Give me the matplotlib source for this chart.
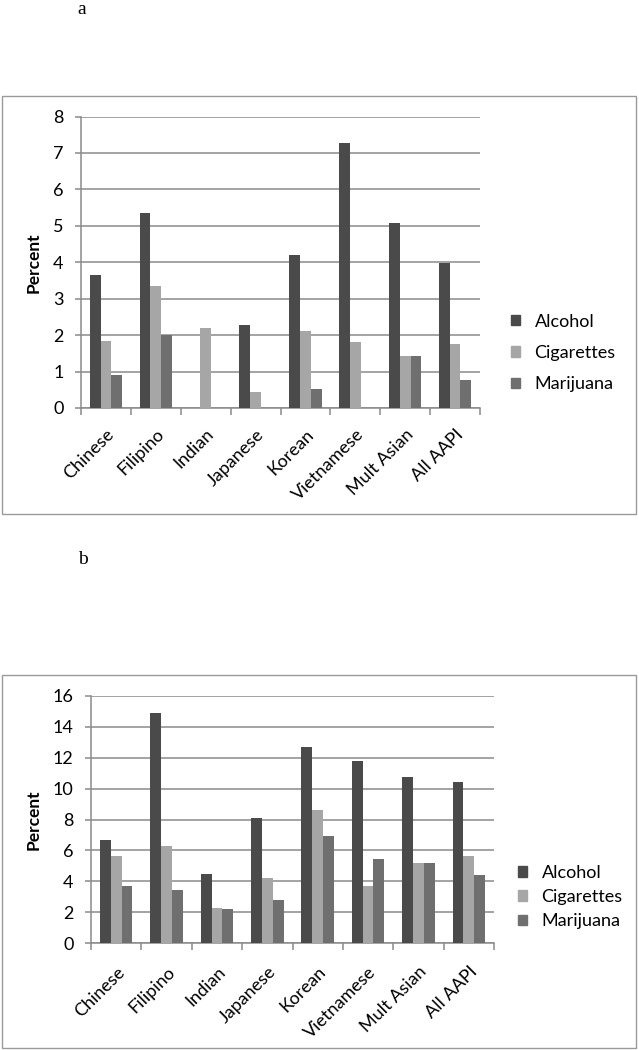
import numpy as np
import matplotlib.pyplot as plt
from matplotlib.patches import Rectangle, Patch

plt.rcParams['font.family'] = ['Lato', 'DejaVu Sans']

categories = ['Chinese', 'Filipino', 'Indian', 'Japanese', 'Korean',
              'Vietnamese', 'Mult Asian', 'All AAPI']
series = ['Alcohol', 'Cigarettes', 'Marijuana']
colors = ['#4a4a4a', '#a6a6a6', '#6f6f6f']

# panel a values (percent)
alcohol_a = [3.66, 5.35, 0.0, 2.28, 4.21, 7.26, 5.09, 3.99]
cigarettes_a = [1.85, 3.35, 2.20, 0.45, 2.12, 1.80, 1.44, 1.77]
marijuana_a = [0.90, 1.99, 0.0, 0.0, 0.51, 0.0, 1.44, 0.77]

# panel b values (percent)
alcohol_b = [6.65, 14.9, 4.44, 8.08, 12.69, 11.76, 10.76, 10.41]
cigarettes_b = [5.61, 6.26, 2.27, 4.18, 8.64, 3.68, 5.17, 5.65]
marijuana_b = [3.68, 3.42, 2.23, 2.77, 6.91, 5.43, 5.17, 4.39]

W, H = 639, 1050
fig = plt.figure(figsize=(W / 100, H / 100), dpi=100)


def px_rect(x0, y0, x1, y1):
    # pixel box (top-left origin) -> figure fraction [l, b, w, h]
    return [x0 / W, 1 - y1 / H, (x1 - x0) / W, (y1 - y0) / H]


def panel(box, ax_box, data, ymax, ystep, leg_pos, leg_space, letter, letter_pos, xpad):
    l, b, w, h = px_rect(*box)
    fig.patches.append(Rectangle((l, b), w, h, transform=fig.transFigure,
                                 fill=False, edgecolor='#9a9a9a', lw=1.0))
    fig.text(letter_pos[0] / W, 1 - letter_pos[1] / H, letter,
             family='Liberation Serif', fontsize=14, ha='center', va='baseline')

    ax = fig.add_axes(px_rect(*ax_box))
    x = np.arange(len(categories))
    bw = 0.215
    for i, (vals, c, name) in enumerate(zip(data, colors, series)):
        ax.bar(x + (i - 1) * bw, vals, bw, color=c, label=name, zorder=3)

    ax.set_xlim(-0.5, len(categories) - 0.5)
    ax.set_ylim(0, ymax)
    ax.set_yticks(np.arange(0, ymax + 0.1, ystep))
    ax.yaxis.grid(True, color='#8a8a8a', lw=1.1, zorder=0)
    ax.set_axisbelow(True)
    for s in ['top', 'right']:
        ax.spines[s].set_visible(False)
    for s in ['left', 'bottom']:
        ax.spines[s].set_color('#8a8a8a')
        ax.spines[s].set_linewidth(1.1)

    ax.set_xticks(x)
    ax.set_xticklabels(categories, rotation=45, ha='right',
                       rotation_mode='anchor', fontsize=13)
    ax.tick_params(axis='x', which='major', length=0, pad=xpad)
    ax.set_xticks(np.arange(-0.5, len(categories)), minor=True)
    ax.tick_params(axis='x', which='minor', length=5, width=1.1,
                   color='#8a8a8a', direction='out')
    ax.tick_params(axis='y', length=4.5, width=1.1, color='#8a8a8a',
                   labelsize=13, pad=8)
    ax.set_ylabel('Percent', fontsize=12.5, fontweight='bold', labelpad=8)

    handles = [Patch(color=c, label=n) for c, n in zip(colors, series)]
    fig.legend(handles=handles, loc='center left',
               bbox_to_anchor=(leg_pos[0] / W, 1 - leg_pos[1] / H),
               frameon=False, fontsize=13, handlelength=0.5,
               handleheight=0.5, handletextpad=0.8, labelspacing=leg_space,
               borderpad=0, borderaxespad=0)
    return ax


panel((2, 96, 636, 514), (81, 116.5, 480, 408),
      [alcohol_a, cigarettes_a, marijuana_a], 8, 1,
      (511, 353), 0.85, 'a', (82, 14), 13)
panel((2, 675, 636, 1048), (91, 696, 494, 943),
      [alcohol_b, cigarettes_b, marijuana_b], 16, 2,
      (518, 897), 0.45, 'b', (83, 564), 15)

fig.savefig('out.png', dpi=100)
